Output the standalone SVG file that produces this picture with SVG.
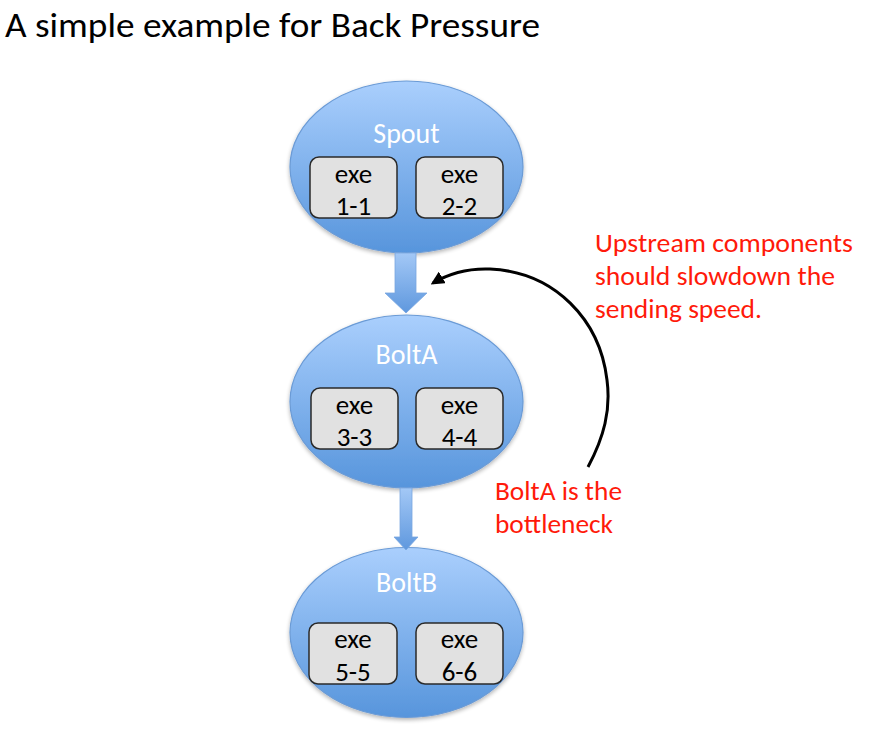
<svg xmlns="http://www.w3.org/2000/svg" width="871" height="732" viewBox="0 0 871 732">
<defs>
<linearGradient id="ellG" x1="0" y1="0" x2="0" y2="1">
<stop offset="0" stop-color="#aacffd"/>
<stop offset="1" stop-color="#5795dc"/>
</linearGradient>
<linearGradient id="arrG" x1="0" y1="0" x2="0" y2="1">
<stop offset="0" stop-color="#a3c8f6"/>
<stop offset="1" stop-color="#5f98de"/>
</linearGradient>
<filter id="sh" x="-10%" y="-10%" width="120%" height="125%">
<feGaussianBlur in="SourceAlpha" stdDeviation="2"/>
<feOffset dy="2" result="b"/>
<feComponentTransfer><feFuncA type="linear" slope="0.3"/></feComponentTransfer>
<feMerge><feMergeNode/><feMergeNode in="SourceGraphic"/></feMerge>
</filter>
<marker id="ah" viewBox="0 0 10 10" refX="8" refY="5" markerWidth="4.5" markerHeight="4.5" orient="auto">
<path d="M0,0 L10,5 L0,10 Z" fill="#000"/>
</marker>
</defs>
<style>
.ell{fill:url(#ellG);stroke:#6b9bd6;stroke-width:1.2}
.box{fill:#e1e1e1;stroke:#2a2a2a;stroke-width:1.5}
.lbl{font-family:Carlito,Lato,"Open Sans",sans-serif;font-size:28px;fill:#ffffff;text-anchor:middle}
.ex{font-family:Carlito,Lato,"Open Sans",sans-serif;font-size:27px;fill:#000;text-anchor:middle}
.red{font-family:Carlito,Lato,"Open Sans",sans-serif;font-size:26px;fill:#ff1a0a}
.ttl{font-family:Carlito,Lato,"Open Sans",sans-serif;font-size:35px;fill:#000}
.blk{fill:url(#arrG);stroke:#79a6e0;stroke-width:0.8}
</style>
<rect width="871" height="732" fill="#fff"/>
<text class="ttl" x="5" y="37" textLength="535" lengthAdjust="spacingAndGlyphs">A simple example for Back Pressure</text>

<g id="spout">
<ellipse class="ell" cx="406.5" cy="167" rx="116.5" ry="86" filter="url(#sh)"/>
<text class="lbl" x="406.5" y="143">Spout</text>
<rect class="box" x="310" y="157" width="87" height="61" rx="9"/>
<rect class="box" x="416" y="157" width="87" height="61" rx="9"/>
<text class="ex" x="353.5" y="183">exe</text>
<text class="ex" x="353.5" y="215">1-1</text>
<text class="ex" x="459.5" y="183">exe</text>
<text class="ex" x="459.5" y="215">2-2</text>
</g>

<g id="boltA">
<ellipse class="ell" cx="406.5" cy="401.5" rx="116.5" ry="86.5" filter="url(#sh)"/>
<text class="lbl" x="406.5" y="364">BoltA</text>
<rect class="box" x="311" y="388" width="87" height="61" rx="9"/>
<rect class="box" x="416" y="388" width="87" height="61" rx="9"/>
<text class="ex" x="354.5" y="414">exe</text>
<text class="ex" x="354.5" y="446">3-3</text>
<text class="ex" x="459.5" y="414">exe</text>
<text class="ex" x="459.5" y="446">4-4</text>
</g>

<g id="boltB">
<ellipse class="ell" cx="406.5" cy="632.5" rx="116.5" ry="85" filter="url(#sh)"/>
<text class="lbl" x="406.5" y="592">BoltB</text>
<rect class="box" x="309" y="623" width="88" height="61" rx="9"/>
<rect class="box" x="416" y="623" width="87" height="61" rx="9"/>
<text class="ex" x="353" y="648">exe</text>
<text class="ex" x="353" y="681">5-5</text>
<text class="ex" x="459.5" y="648">exe</text>
<text class="ex" x="459.5" y="681">6-6</text>
</g>

<g id="connectors">
<polygon class="blk" points="395,253 416,253 416,293 427,293 406,313 385,293 395,293"/>
<polygon class="blk" points="400,488 412,488 412,537 418,537 406,550 394,537 400,537"/>
<path d="M588,467 C604,437 611,410 607,380 C600,320 555,272 490,269 C465,268 448,274 433,283" fill="none" stroke="#000" stroke-width="3" marker-end="url(#ah)"/>
</g>

<g id="notes">
<text class="red" x="595" y="252" textLength="258" lengthAdjust="spacingAndGlyphs">Upstream components</text>
<text class="red" x="595" y="285" textLength="240" lengthAdjust="spacingAndGlyphs">should slowdown the</text>
<text class="red" x="595" y="318" textLength="167" lengthAdjust="spacingAndGlyphs">sending speed.</text>
<text class="red" x="495" y="500" textLength="127" lengthAdjust="spacingAndGlyphs">BoltA is the</text>
<text class="red" x="495" y="533" textLength="118" lengthAdjust="spacingAndGlyphs">bottleneck</text>
</g>
</svg>
